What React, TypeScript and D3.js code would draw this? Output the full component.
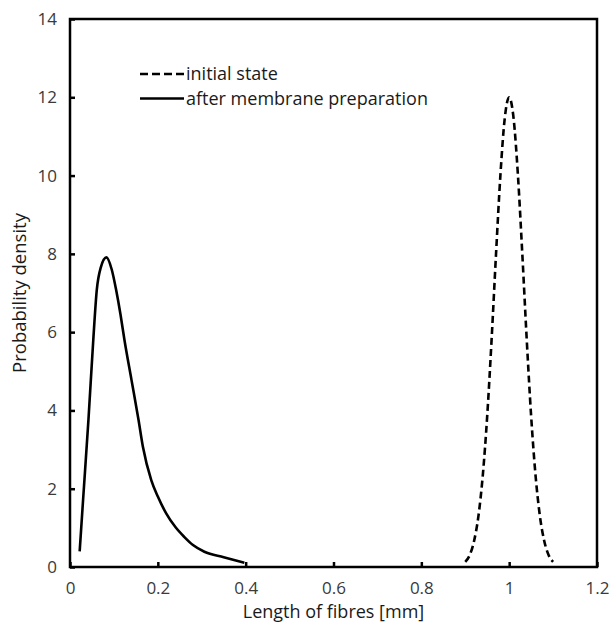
import React, { useRef, useEffect } from "react";
import * as d3 from "d3";

// fibre length (mm) and probability density
const initialX = [0.9, 0.91, 0.92, 0.93, 0.94, 0.95, 0.96, 0.97, 0.98, 0.99, 1.0, 1.01, 1.02, 1.03, 1.04, 1.05, 1.06, 1.07, 1.08, 1.09, 1.1];
const initialY = [0.13, 0.3, 0.66, 1.3, 2.35, 3.86, 5.81, 7.98, 10.0, 11.47, 12.0, 11.47, 10.0, 7.98, 5.81, 3.86, 2.35, 1.3, 0.66, 0.3, 0.13];

const afterX = [0.022, 0.03, 0.042, 0.053, 0.061, 0.07, 0.083, 0.095, 0.105, 0.115, 0.124, 0.14, 0.156, 0.166, 0.185, 0.2, 0.219, 0.24, 0.26, 0.28, 0.306, 0.35, 0.397];
const afterY = [0.4, 1.75, 3.76, 5.8, 7.08, 7.65, 7.91, 7.6, 7.08, 6.45, 5.8, 4.78, 3.76, 3.07, 2.22, 1.8, 1.37, 1.02, 0.77, 0.56, 0.39, 0.25, 0.11];

const xTicks = [0, 0.2, 0.4, 0.6, 0.8, 1, 1.2];
const yTicks = [0, 2, 4, 6, 8, 10, 12, 14];

const legendLabels = ["initial state", "after membrane preparation"];

const W = 609;
const H = 623;
const margin = { left: 70, right: 12, top: 19, bottom: 56 };
const font = "'Open Sans', sans-serif";

const App = () => {
  const svgRef = useRef<SVGSVGElement>(null);

  useEffect(() => {
    const svg = d3.select(svgRef.current);
    svg.selectAll("*").remove();

    const x = d3.scaleLinear().domain([0, 1.2]).range([margin.left, W - margin.right]);
    const y = d3.scaleLinear().domain([0, 14]).range([H - margin.bottom, margin.top]);

    const xAxis = d3.axisBottom(x).tickValues(xTicks).tickSize(-5).tickPadding(15).tickFormat((d) => String(d));
    const gx = svg.append("g").attr("transform", `translate(0,${y(0)})`).call(xAxis);

    const yAxis = d3.axisLeft(y).tickValues(yTicks).tickSize(-5).tickPadding(13).tickFormat((d) => String(d));
    const gy = svg.append("g").attr("transform", `translate(${x(0)},0)`).call(yAxis);

    [gx, gy].forEach((g) => {
      g.select(".domain").remove();
      g.selectAll(".tick line").attr("stroke", "#000").attr("stroke-width", 2.5);
      g.selectAll(".tick text")
        .attr("fill", "#3a3a3a")
        .style("font-family", font)
        .style("font-size", "17px");
    });

    // frame
    svg
      .append("rect")
      .attr("x", x(0))
      .attr("y", y(14))
      .attr("width", x(1.2) - x(0))
      .attr("height", y(0) - y(14))
      .attr("fill", "none")
      .attr("stroke", "#000")
      .attr("stroke-width", 2.5);

    const line = d3
      .line<[number, number]>()
      .x((d) => x(d[0]))
      .y((d) => y(d[1]))
      .curve(d3.curveMonotoneX);

    svg
      .append("path")
      .datum(initialX.map((v, i) => [v, initialY[i]] as [number, number]))
      .attr("d", line)
      .attr("fill", "none")
      .attr("stroke", "#000")
      .attr("stroke-width", 2.6)
      .attr("stroke-dasharray", "7,4");

    svg
      .append("path")
      .datum(afterX.map((v, i) => [v, afterY[i]] as [number, number]))
      .attr("d", line)
      .attr("fill", "none")
      .attr("stroke", "#000")
      .attr("stroke-width", 2.6);

    // legend
    const lg = svg.append("g");
    legendLabels.forEach((label, i) => {
      const ly = 74 + i * 24.5;
      lg.append("line")
        .attr("x1", 140)
        .attr("x2", 184)
        .attr("y1", ly)
        .attr("y2", ly)
        .attr("stroke", "#000")
        .attr("stroke-width", 2.6)
        .attr("stroke-dasharray", i === 0 ? "8,4" : null);
      lg.append("text")
        .attr("x", 186)
        .attr("y", ly + 6)
        .text(label)
        .attr("fill", "#1a1a1a")
        .style("font-family", font)
        .style("font-size", "18px");
    });

    svg
      .append("text")
      .attr("x", (x(0) + x(1.2)) / 2)
      .attr("y", 618)
      .attr("text-anchor", "middle")
      .text("Length of fibres [mm]")
      .attr("fill", "#1a1a1a")
      .style("font-family", font)
      .style("font-size", "18px");

    svg
      .append("text")
      .attr("transform", `translate(26,${(y(0) + y(14)) / 2}) rotate(-90)`)
      .attr("text-anchor", "middle")
      .text("Probability density")
      .attr("fill", "#1a1a1a")
      .style("font-family", font)
      .style("font-size", "18.5px");
  }, []);

  return (
    <svg
      ref={svgRef}
      width={W}
      height={H}
      style={{ position: "absolute", left: 0, top: 0, background: "#fff" }}
    />
  );
};

export default App;
